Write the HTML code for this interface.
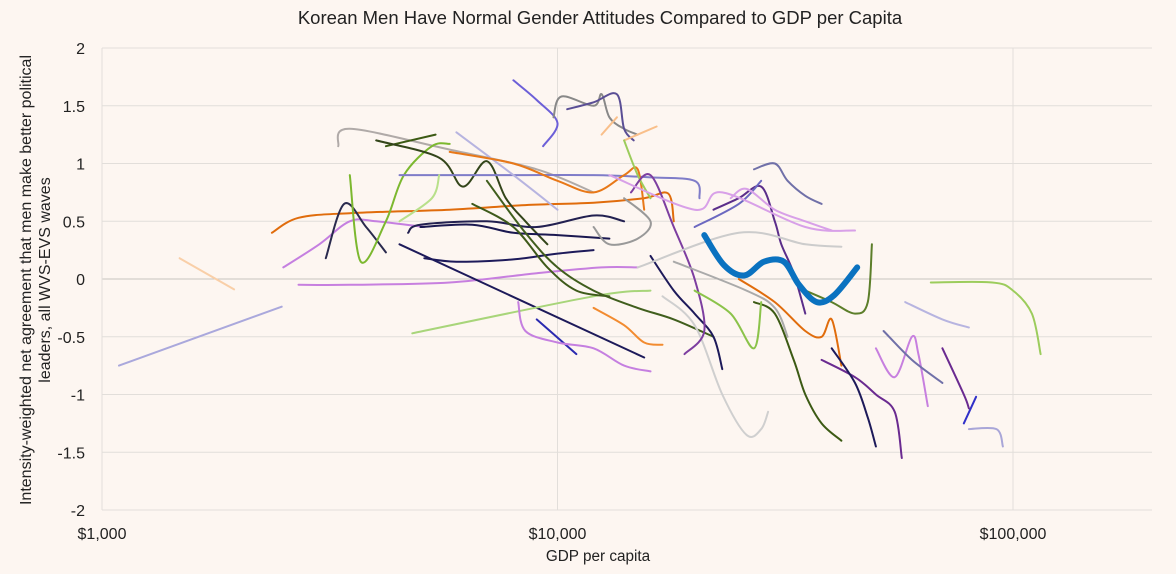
<!DOCTYPE html>
<html><head><meta charset="utf-8">
<style>
html,body{margin:0;padding:0;background:#fdf6f1;}
svg{display:block;font-family:"Liberation Sans",sans-serif;}
</style></head>
<body>
<svg id="chart" width="1176" height="574" viewBox="0 0 1176 574">
<rect x="0" y="0" width="1176" height="574" fill="#fdf6f1"/>
<text x="600" y="24" text-anchor="middle" font-size="18.5" fill="#222">Korean Men Have Normal Gender Attitudes Compared to GDP per Capita</text>
<g id="grid"></g>
<g id="series"></g>
<g id="axes"></g>
<text transform="translate(31,280) rotate(-90)" text-anchor="middle" font-size="16" fill="#222"><tspan x="0" dy="0">Intensity-weighted net agreement that men make better political</tspan><tspan x="0" dy="19">leaders, all WVS-EVS waves</tspan></text>
<text x="598" y="561" text-anchor="middle" font-size="15.3" fill="#222">GDP per capita</text>
</svg>
<script>
// Axis data
const yTicks = [2, 1.5, 1, 0.5, 0, -0.5, -1, -1.5, -2];
const yTickLabels = ["2", "1.5", "1", "0.5", "0", "-0.5", "-1", "-1.5", "-2"];
const xTicks = [1000, 10000, 100000];
const xTickLabels = ["$1,000", "$10,000", "$100,000"];
// Series: GDP per capita (thousands $) and attitude value
const seriesColors = ["#aaa8dc","#f9cfa8","#e06c0c","#c57fe0","#c77fdf","#b0aaa8","#2a2a4e","#7cb82f","#3c5a14","#33451a","#1d1a5a","#222050","#1a1850","#1d1a5a","#7f7cc8","#a8d57a","#b8e08a","#b7b4e0","#e87818","#3e5a1a","#405e1d","#6c5fd8","#888888","#5a4e95","#f9bf8a","#f9bf8a","#9ccc5c","#2a2ab0","#c57fe0","#f28b30","#cfcfcf","#1d1a5a","#999999","#7d3ea0","#5b2e8a","#6b68c0","#7070a8","#d8a0e8","#cccccc","#aaaaaa","#3c5a14","#5c7e2a","#e06c0c","#6a2a90","#1d1a5a","#c77fdf","#7070a8","#b7b4e0","#9ccc5c","#3030c8","#a9a6d8","#6a2a90","#8bc34a","#d8a0e8"];
const seriesGdp = [
[1.09,2.48],[1.48,1.95],[2.36,2.7,3.5,5.8,8.5,12,15.5,17.5,18],[2.5,3.0,3.5,4.0,5.1],[2.7,3.5,5.8,9,12.5,15],
[3.3,3.5,5.8,9,12],[3.1,3.4,3.8,4.2],[3.5,3.7,4.2,4.6,5.3,5.8],[4.2,5.4],[4.0,5.5,6.2,7,7.7,8.5,9.5],
[4.5,15.5],[4.7,5,7,9,12,14],[5.0,6.5,8,10,13],[5.1,6,8,10,12],[4.5,8,12,16,20,20.5],
[4.8,12,16],[4.5,5.3,5.5],[6,8,10],[5.8,8,10,12,14,15,15.5],[6.5,8,9.5,11,13],
[7,8.5,10,12,15,18,22],[8,9,10,9.3],[9.8,10.2,12,12.5,13,14,15],[10.5,12,13.5,14,14.7],[12.5,13.5],
[14,16.5],[14,15,16],[9,11],[8.2,8.5,10,12,14,16],[12,14,15.5,17],
[17,20,23,26,28,29],[16,18,20,22,23],[12,13,15,16,14],[14.5,16,18,20,21,19],[22,25,28,30,31,33,35],
[20,25,28],[27,30,32,35,38],[24,26,30,35,40],[15,25,35,42],[18,26,30,32],
[27,30,33,35,38,42],[35,40,45,48,49],[25,30,35,38,40,42],[38,45,50,55,57],[40,45,48,50],
[50,55,60,62,65],[52,60,70],[58,70,80],[66,90,100,110,115],[83,78],
[80,92,95],[70,78,80],[20,24,27,28],[13,20,23,35,45]];
const seriesVal = [
[-0.75,-0.24],[0.18,-0.09],[0.4,0.53,0.57,0.6,0.64,0.66,0.7,0.74,0.5],[0.1,0.3,0.5,0.5,0.45],[-0.05,-0.05,-0.03,0.05,0.1,0.1],
[1.15,1.3,1.12,0.95,0.75],[0.18,0.65,0.45,0.23],[0.9,0.15,0.5,0.9,1.15,1.17],[1.15,1.25],[1.2,1.05,0.8,1.02,0.7,0.5,0.3],
[0.3,-0.68],[0.4,0.47,0.5,0.45,0.55,0.5],[0.45,0.47,0.4,0.38,0.35],[0.18,0.15,0.17,0.22,0.25],[0.9,0.9,0.9,0.88,0.85,0.7],
[-0.47,-0.15,-0.1],[0.5,0.7,0.9],[1.27,0.9,0.6],[1.1,1.0,0.85,0.75,0.9,0.95,0.6],[0.65,0.45,0.1,-0.1,-0.15],
[0.85,0.4,0.1,-0.1,-0.25,-0.35,-0.5],[1.72,1.55,1.35,1.15],[1.4,1.58,1.5,1.6,1.4,1.3,1.25],[1.47,1.53,1.6,1.3,1.2],[1.25,1.4],
[1.2,1.32],[1.2,0.9,0.7],[-0.35,-0.65],[-0.2,-0.45,-0.55,-0.6,-0.75,-0.8],[-0.25,-0.4,-0.55,-0.57],
[-0.15,-0.4,-1.0,-1.35,-1.3,-1.15],[0.2,-0.1,-0.3,-0.5,-0.78],[0.45,0.3,0.35,0.5,0.7],[0.75,0.9,0.45,0,-0.45,-0.65],[0.6,0.7,0.8,0.5,0.3,0.05,-0.3],
[0.45,0.65,0.85],[0.95,1.0,0.85,0.72,0.65],[0.7,0.78,0.6,0.5,0.42],[0.1,0.4,0.3,0.28],[0.15,-0.1,-0.25,-0.5],
[-0.2,-0.3,-0.7,-1.0,-1.25,-1.4],[-0.1,-0.2,-0.3,-0.2,0.3],[0.0,-0.2,-0.45,-0.5,-0.35,-0.75],[-0.7,-0.85,-1.0,-1.15,-1.55],[-0.6,-0.9,-1.2,-1.45],
[-0.6,-0.85,-0.5,-0.65,-1.1],[-0.45,-0.7,-0.9],[-0.2,-0.35,-0.42],[-0.03,-0.03,-0.1,-0.3,-0.65],[-1.02,-1.25],
[-1.3,-1.3,-1.45],[-0.6,-1.0,-1.12],[-0.1,-0.3,-0.6,-0.2],[0.9,0.6,0.75,0.45,0.42]];
// Korea
const koreaGdp = [21.0,23.2,25.7,28.4,31.4,33.9,37.1,40.5,45.5];
const koreaVal = [0.38,0.12,0.03,0.15,0.15,-0.05,-0.2,-0.14,0.1];

const L=102, R=1152, T=48, B=510;
const xMin=3, xMax=3+(R-L)/455.5;
function xs(g){ return L+(Math.log10(g)-xMin)/(xMax-xMin)*(R-L); }
function ys(v){ return T+(2-v)/4*(B-T); }
const NS="http://www.w3.org/2000/svg";
function mk(tag,parent,attrs){const e=document.createElementNS(NS,tag);for(const k in attrs)e.setAttribute(k,attrs[k]);parent.appendChild(e);return e;}
const grid=document.getElementById('grid'), axes=document.getElementById('axes'), sg=document.getElementById('series');
yTicks.forEach((t,i)=>{
  const ln=mk('line',grid,{x1:L,x2:R,y1:ys(t),y2:ys(t),stroke:t===0?'#c8c4c0':'#e2deda','stroke-width':1});
  
  
  const tx=mk('text',axes,{x:L-17,y:ys(t)+6,'text-anchor':'end','font-size':16,fill:'#222'});
  tx.textContent=yTickLabels[i];
  
  
});
const lv=mk('line',grid,{x1:L,x2:L,y1:T,y2:B,stroke:'#d0ccc8'});


xTicks.forEach((t,i)=>{
  const ln=mk('line',grid,{x1:xs(t),x2:xs(t),y1:T,y2:B,stroke:'#e2deda'});
  
  
  const tx=mk('text',axes,{x:xs(t),y:539,'text-anchor':'middle','font-size':16,fill:'#222'});
  tx.textContent=xTickLabels[i];
  
  
});
function smooth(pts){
  if(pts.length<3){return 'M'+pts.map(p=>p[0].toFixed(1)+','+p[1].toFixed(1)).join(' L');}
  let d='M'+pts[0][0].toFixed(1)+','+pts[0][1].toFixed(1);
  for(let i=0;i<pts.length-1;i++){
    const p0=pts[i-1]||pts[i],p1=pts[i],p2=pts[i+1],p3=pts[i+2]||p2;
    const c1=[p1[0]+(p2[0]-p0[0])/6,p1[1]+(p2[1]-p0[1])/6];
    const c2=[p2[0]-(p3[0]-p1[0])/6,p2[1]-(p3[1]-p1[1])/6];
    d+=' C'+c1[0].toFixed(1)+','+c1[1].toFixed(1)+' '+c2[0].toFixed(1)+','+c2[1].toFixed(1)+' '+p2[0].toFixed(1)+','+p2[1].toFixed(1);
  }
  return d;
}
seriesGdp.forEach((g,i)=>{
  const pts=g.map((x,j)=>[xs(x*1000),ys(seriesVal[i][j])]);
  const p=mk('path',sg,{d:smooth(pts),fill:'none',stroke:seriesColors[i%seriesColors.length],'stroke-width':2,'stroke-linecap':'round'});
  
  
});
const kp=koreaGdp.map((x,j)=>[xs(x*1000),ys(koreaVal[j])]);
const k=mk('path',sg,{d:smooth(kp),fill:'none',stroke:'#0a72c0','stroke-width':6,'stroke-linecap':'round'});


</script>
</body></html>
